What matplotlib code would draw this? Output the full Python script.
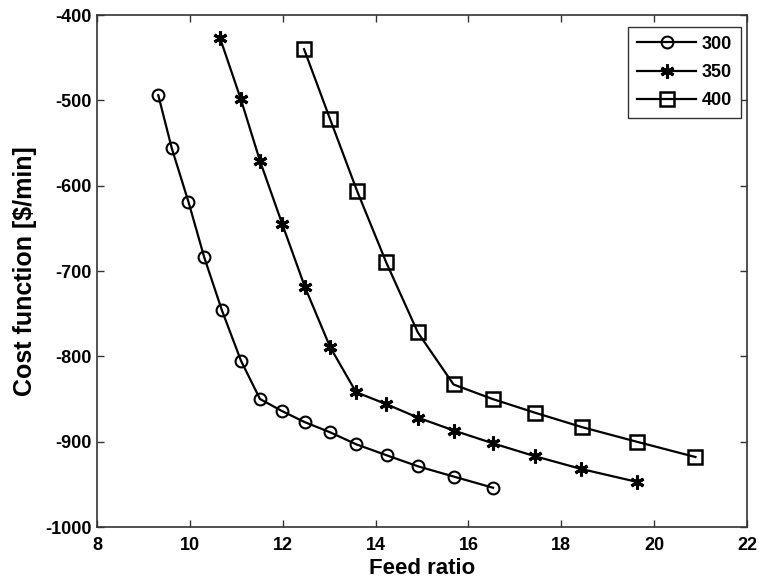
import numpy as np
import matplotlib.pyplot as plt

plt.rcParams['font.family'] = ['Liberation Sans', 'DejaVu Sans']
plt.rcParams['font.weight'] = 'bold'
plt.rcParams['axes.unicode_minus'] = False

# feed ratio / cost function for each series
x300 = [9.32, 9.61, 9.97, 10.31, 10.69, 11.10, 11.51, 11.98, 12.47, 13.02, 13.58, 14.24, 14.92, 15.69, 16.53]
y300 = [-494, -556, -619, -684, -746, -805, -850, -864, -877, -889, -903, -916, -929, -941, -954]

x350 = [10.65, 11.10, 11.51, 11.99, 12.48, 13.02, 13.58, 14.23, 14.92, 15.69, 16.53, 17.43, 18.43, 19.62]
y350 = [-427, -499, -571, -645, -719, -789, -842, -856, -872, -887, -902, -917, -932, -947]

x400 = [12.46, 13.02, 13.60, 14.23, 14.91, 15.68, 16.52, 17.43, 18.45, 19.62, 20.89]
y400 = [-440, -522, -606, -690, -772, -833, -850, -866, -883, -900, -918]

labels = ['300', '350', '400']

fig = plt.figure(figsize=(7.59, 5.84), dpi=100)
ax = fig.add_axes([0.1278, 0.0976, 0.8564, 0.8767])

ax.plot(x300, y300, color='black', lw=1.6, marker='o', ms=8.5, mfc='none', mew=1.5, label=labels[0])
ax.plot(x350, y350, color='black', lw=1.6, marker=(6, 2, 0), ms=10, mew=2.2, label=labels[1])
ax.plot(x400, y400, color='black', lw=1.6, marker='s', ms=10, mfc='none', mew=1.8, label=labels[2])

ax.set_xlim(8, 22)
ax.set_ylim(-1000, -400)
ax.set_xticks(np.arange(8, 23, 2))
ax.set_yticks(np.arange(-1000, -399, 100))

ax.tick_params(direction='in', length=5, width=1, top=True, right=True,
               labelsize=13, pad=4, color='#333333')
ax.tick_params(axis='x', pad=7)
for lab in ax.get_xticklabels() + ax.get_yticklabels():
    lab.set_fontweight('bold')
for s in ax.spines.values():
    s.set_color('#333333')
    s.set_linewidth(1.2)

ax.set_xlabel('Feed ratio', fontsize=16, fontweight='bold', labelpad=3)
ax.set_ylabel(r'Cost function [\$/min]', fontsize=18, fontweight='bold', labelpad=6)

leg = ax.legend(loc='upper right', bbox_to_anchor=(0.991, 0.977), borderaxespad=0,
                fontsize=13, handlelength=3.3, handletextpad=0.3, labelspacing=0.62,
                borderpad=0.5, fancybox=False, framealpha=1, edgecolor='#333333')
leg.get_frame().set_linewidth(1.0)
for t in leg.get_texts():
    t.set_fontweight('bold')

fig.savefig('out.png', dpi=100)
